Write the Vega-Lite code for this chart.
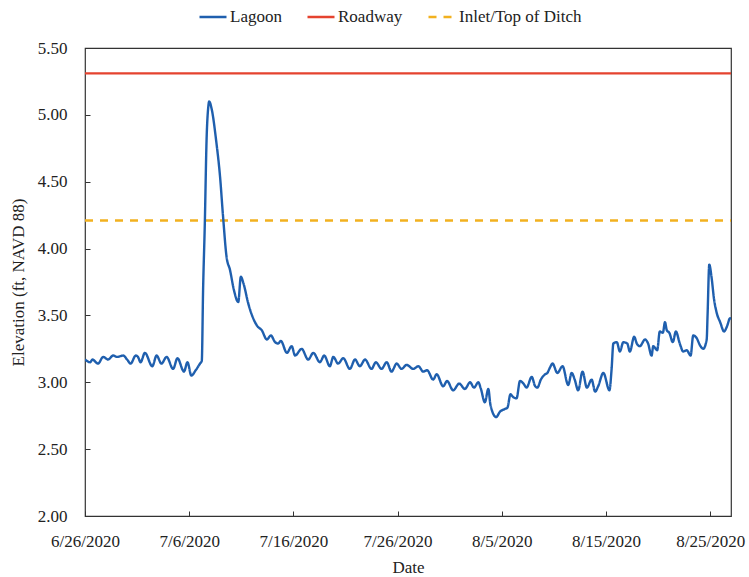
{
  "$schema": "https://vega.github.io/schema/vega-lite/v6.json",
  "width": 646,
  "height": 468,
  "autosize": {"type": "none"},
  "padding": {"left": 85, "top": 48, "right": 18, "bottom": 61},
  "background": "white",
  "config": {
    "font": "Liberation Serif",
    "view": {"stroke": "#333333", "strokeWidth": 1.2},
    "style": {
      "guide-label": {"font": "Liberation Serif", "fontSize": 17, "fill": "#222222"},
      "guide-title": {"font": "Liberation Serif", "fontSize": 17, "fill": "#222222", "fontWeight": "normal"}
    },
    "axis": {
      "domain": false,
      "grid": false,
      "tickColor": "#333333",
      "tickWidth": 1,
      "tickSize": -5,
      "labelFont": "Liberation Serif",
      "labelFontSize": 17,
      "labelColor": "#222222",
      "titleFont": "Liberation Serif",
      "titleFontSize": 17,
      "titleFontWeight": "normal",
      "titleColor": "#222222"
    },
    "legend": {
      "labelFont": "Liberation Serif",
      "labelFontSize": 17,
      "labelColor": "#222222"
    }
  },
  "data": {
    "values": [
      {"date": "2020-06-26T00:00", "value": 5.31, "series": "Roadway"},
      {"date": "2020-08-27T00:00", "value": 5.31, "series": "Roadway"},
      {"date": "2020-06-26T00:00", "value": 4.21, "series": "Inlet/Top of Ditch"},
      {"date": "2020-08-27T00:00", "value": 4.21, "series": "Inlet/Top of Ditch"},
      {"date": "2020-06-26T00:00", "value": 3.17, "series": "Lagoon"},
      {"date": "2020-06-26T12:00", "value": 3.15, "series": "Lagoon"},
      {"date": "2020-06-26T17:00", "value": 3.17, "series": "Lagoon"},
      {"date": "2020-06-27T06:00", "value": 3.14, "series": "Lagoon"},
      {"date": "2020-06-27T18:00", "value": 3.19, "series": "Lagoon"},
      {"date": "2020-06-28T05:00", "value": 3.17, "series": "Lagoon"},
      {"date": "2020-06-28T17:00", "value": 3.2, "series": "Lagoon"},
      {"date": "2020-06-29T02:00", "value": 3.19, "series": "Lagoon"},
      {"date": "2020-06-29T16:00", "value": 3.2, "series": "Lagoon"},
      {"date": "2020-06-30T01:00", "value": 3.17, "series": "Lagoon"},
      {"date": "2020-06-30T09:00", "value": 3.14, "series": "Lagoon"},
      {"date": "2020-06-30T21:00", "value": 3.2, "series": "Lagoon"},
      {"date": "2020-07-01T02:00", "value": 3.19, "series": "Lagoon"},
      {"date": "2020-07-01T08:00", "value": 3.15, "series": "Lagoon"},
      {"date": "2020-07-01T18:00", "value": 3.22, "series": "Lagoon"},
      {"date": "2020-07-02T11:00", "value": 3.12, "series": "Lagoon"},
      {"date": "2020-07-02T21:00", "value": 3.2, "series": "Lagoon"},
      {"date": "2020-07-03T08:00", "value": 3.14, "series": "Lagoon"},
      {"date": "2020-07-03T20:00", "value": 3.19, "series": "Lagoon"},
      {"date": "2020-07-04T11:00", "value": 3.1, "series": "Lagoon"},
      {"date": "2020-07-04T21:00", "value": 3.18, "series": "Lagoon"},
      {"date": "2020-07-05T12:00", "value": 3.08, "series": "Lagoon"},
      {"date": "2020-07-05T20:00", "value": 3.15, "series": "Lagoon"},
      {"date": "2020-07-06T05:00", "value": 3.05, "series": "Lagoon"},
      {"date": "2020-07-06T15:00", "value": 3.09, "series": "Lagoon"},
      {"date": "2020-07-07T01:00", "value": 3.14, "series": "Lagoon"},
      {"date": "2020-07-07T05:00", "value": 3.16, "series": "Lagoon"},
      {"date": "2020-07-07T08:00", "value": 3.69, "series": "Lagoon"},
      {"date": "2020-07-07T12:00", "value": 4.19, "series": "Lagoon"},
      {"date": "2020-07-07T16:00", "value": 4.81, "series": "Lagoon"},
      {"date": "2020-07-07T20:00", "value": 5.06, "series": "Lagoon"},
      {"date": "2020-07-07T22:00", "value": 5.1, "series": "Lagoon"},
      {"date": "2020-07-08T04:00", "value": 5.04, "series": "Lagoon"},
      {"date": "2020-07-08T14:00", "value": 4.81, "series": "Lagoon"},
      {"date": "2020-07-08T23:00", "value": 4.54, "series": "Lagoon"},
      {"date": "2020-07-09T06:00", "value": 4.24, "series": "Lagoon"},
      {"date": "2020-07-09T14:00", "value": 3.94, "series": "Lagoon"},
      {"date": "2020-07-09T22:00", "value": 3.84, "series": "Lagoon"},
      {"date": "2020-07-10T07:00", "value": 3.69, "series": "Lagoon"},
      {"date": "2020-07-10T17:00", "value": 3.6, "series": "Lagoon"},
      {"date": "2020-07-10T23:00", "value": 3.79, "series": "Lagoon"},
      {"date": "2020-07-11T05:00", "value": 3.74, "series": "Lagoon"},
      {"date": "2020-07-11T16:00", "value": 3.59, "series": "Lagoon"},
      {"date": "2020-07-12T02:00", "value": 3.49, "series": "Lagoon"},
      {"date": "2020-07-12T13:00", "value": 3.42, "series": "Lagoon"},
      {"date": "2020-07-12T23:00", "value": 3.39, "series": "Lagoon"},
      {"date": "2020-07-13T11:00", "value": 3.32, "series": "Lagoon"},
      {"date": "2020-07-13T20:00", "value": 3.35, "series": "Lagoon"},
      {"date": "2020-07-14T06:00", "value": 3.3, "series": "Lagoon"},
      {"date": "2020-07-14T13:00", "value": 3.29, "series": "Lagoon"},
      {"date": "2020-07-14T19:00", "value": 3.31, "series": "Lagoon"},
      {"date": "2020-07-15T09:00", "value": 3.22, "series": "Lagoon"},
      {"date": "2020-07-15T20:00", "value": 3.27, "series": "Lagoon"},
      {"date": "2020-07-16T04:00", "value": 3.2, "series": "Lagoon"},
      {"date": "2020-07-16T19:00", "value": 3.25, "series": "Lagoon"},
      {"date": "2020-07-17T10:00", "value": 3.17, "series": "Lagoon"},
      {"date": "2020-07-17T22:00", "value": 3.22, "series": "Lagoon"},
      {"date": "2020-07-18T13:00", "value": 3.15, "series": "Lagoon"},
      {"date": "2020-07-18T23:00", "value": 3.2, "series": "Lagoon"},
      {"date": "2020-07-19T12:00", "value": 3.12, "series": "Lagoon"},
      {"date": "2020-07-19T20:00", "value": 3.19, "series": "Lagoon"},
      {"date": "2020-07-20T07:00", "value": 3.14, "series": "Lagoon"},
      {"date": "2020-07-20T19:00", "value": 3.18, "series": "Lagoon"},
      {"date": "2020-07-21T10:00", "value": 3.1, "series": "Lagoon"},
      {"date": "2020-07-21T22:00", "value": 3.17, "series": "Lagoon"},
      {"date": "2020-07-22T09:00", "value": 3.12, "series": "Lagoon"},
      {"date": "2020-07-22T21:00", "value": 3.17, "series": "Lagoon"},
      {"date": "2020-07-23T12:00", "value": 3.1, "series": "Lagoon"},
      {"date": "2020-07-23T22:00", "value": 3.15, "series": "Lagoon"},
      {"date": "2020-07-24T11:00", "value": 3.1, "series": "Lagoon"},
      {"date": "2020-07-24T23:00", "value": 3.15, "series": "Lagoon"},
      {"date": "2020-07-25T10:00", "value": 3.08, "series": "Lagoon"},
      {"date": "2020-07-25T22:00", "value": 3.14, "series": "Lagoon"},
      {"date": "2020-07-26T09:00", "value": 3.1, "series": "Lagoon"},
      {"date": "2020-07-26T21:00", "value": 3.13, "series": "Lagoon"},
      {"date": "2020-07-27T12:00", "value": 3.1, "series": "Lagoon"},
      {"date": "2020-07-28T00:00", "value": 3.12, "series": "Lagoon"},
      {"date": "2020-07-28T11:00", "value": 3.08, "series": "Lagoon"},
      {"date": "2020-07-28T20:00", "value": 3.09, "series": "Lagoon"},
      {"date": "2020-07-29T10:00", "value": 3.02, "series": "Lagoon"},
      {"date": "2020-07-29T18:00", "value": 3.06, "series": "Lagoon"},
      {"date": "2020-07-30T09:00", "value": 2.97, "series": "Lagoon"},
      {"date": "2020-07-30T18:00", "value": 3.01, "series": "Lagoon"},
      {"date": "2020-07-31T08:00", "value": 2.94, "series": "Lagoon"},
      {"date": "2020-07-31T22:00", "value": 2.99, "series": "Lagoon"},
      {"date": "2020-08-01T11:00", "value": 2.95, "series": "Lagoon"},
      {"date": "2020-08-01T23:00", "value": 3.0, "series": "Lagoon"},
      {"date": "2020-08-02T08:00", "value": 2.96, "series": "Lagoon"},
      {"date": "2020-08-02T18:00", "value": 3.0, "series": "Lagoon"},
      {"date": "2020-08-03T00:00", "value": 2.95, "series": "Lagoon"},
      {"date": "2020-08-03T09:00", "value": 2.85, "series": "Lagoon"},
      {"date": "2020-08-03T17:00", "value": 2.95, "series": "Lagoon"},
      {"date": "2020-08-03T22:00", "value": 2.83, "series": "Lagoon"},
      {"date": "2020-08-04T11:00", "value": 2.74, "series": "Lagoon"},
      {"date": "2020-08-04T20:00", "value": 2.78, "series": "Lagoon"},
      {"date": "2020-08-05T07:00", "value": 2.8, "series": "Lagoon"},
      {"date": "2020-08-05T13:00", "value": 2.81, "series": "Lagoon"},
      {"date": "2020-08-05T20:00", "value": 2.91, "series": "Lagoon"},
      {"date": "2020-08-06T02:00", "value": 2.89, "series": "Lagoon"},
      {"date": "2020-08-06T10:00", "value": 2.88, "series": "Lagoon"},
      {"date": "2020-08-06T18:00", "value": 3.01, "series": "Lagoon"},
      {"date": "2020-08-07T02:00", "value": 2.99, "series": "Lagoon"},
      {"date": "2020-08-07T09:00", "value": 2.96, "series": "Lagoon"},
      {"date": "2020-08-07T21:00", "value": 3.04, "series": "Lagoon"},
      {"date": "2020-08-08T05:00", "value": 2.97, "series": "Lagoon"},
      {"date": "2020-08-08T10:00", "value": 2.96, "series": "Lagoon"},
      {"date": "2020-08-08T18:00", "value": 3.02, "series": "Lagoon"},
      {"date": "2020-08-09T04:00", "value": 3.06, "series": "Lagoon"},
      {"date": "2020-08-09T09:00", "value": 3.07, "series": "Lagoon"},
      {"date": "2020-08-09T15:00", "value": 3.11, "series": "Lagoon"},
      {"date": "2020-08-09T21:00", "value": 3.14, "series": "Lagoon"},
      {"date": "2020-08-10T08:00", "value": 3.07, "series": "Lagoon"},
      {"date": "2020-08-10T20:00", "value": 3.12, "series": "Lagoon"},
      {"date": "2020-08-11T09:00", "value": 2.98, "series": "Lagoon"},
      {"date": "2020-08-11T17:00", "value": 3.07, "series": "Lagoon"},
      {"date": "2020-08-12T00:00", "value": 3.02, "series": "Lagoon"},
      {"date": "2020-08-12T08:00", "value": 2.94, "series": "Lagoon"},
      {"date": "2020-08-12T18:00", "value": 3.08, "series": "Lagoon"},
      {"date": "2020-08-13T04:00", "value": 2.96, "series": "Lagoon"},
      {"date": "2020-08-13T15:00", "value": 3.02, "series": "Lagoon"},
      {"date": "2020-08-13T23:00", "value": 2.93, "series": "Lagoon"},
      {"date": "2020-08-14T06:00", "value": 2.97, "series": "Lagoon"},
      {"date": "2020-08-14T18:00", "value": 3.07, "series": "Lagoon"},
      {"date": "2020-08-15T08:00", "value": 2.94, "series": "Lagoon"},
      {"date": "2020-08-15T13:00", "value": 3.1, "series": "Lagoon"},
      {"date": "2020-08-15T17:00", "value": 3.29, "series": "Lagoon"},
      {"date": "2020-08-16T01:00", "value": 3.3, "series": "Lagoon"},
      {"date": "2020-08-16T08:00", "value": 3.23, "series": "Lagoon"},
      {"date": "2020-08-16T16:00", "value": 3.3, "series": "Lagoon"},
      {"date": "2020-08-17T01:00", "value": 3.29, "series": "Lagoon"},
      {"date": "2020-08-17T07:00", "value": 3.23, "series": "Lagoon"},
      {"date": "2020-08-17T17:00", "value": 3.34, "series": "Lagoon"},
      {"date": "2020-08-17T23:00", "value": 3.29, "series": "Lagoon"},
      {"date": "2020-08-18T06:00", "value": 3.27, "series": "Lagoon"},
      {"date": "2020-08-18T18:00", "value": 3.32, "series": "Lagoon"},
      {"date": "2020-08-19T01:00", "value": 3.29, "series": "Lagoon"},
      {"date": "2020-08-19T09:00", "value": 3.2, "series": "Lagoon"},
      {"date": "2020-08-19T13:00", "value": 3.27, "series": "Lagoon"},
      {"date": "2020-08-19T22:00", "value": 3.24, "series": "Lagoon"},
      {"date": "2020-08-20T04:00", "value": 3.38, "series": "Lagoon"},
      {"date": "2020-08-20T11:00", "value": 3.37, "series": "Lagoon"},
      {"date": "2020-08-20T16:00", "value": 3.45, "series": "Lagoon"},
      {"date": "2020-08-20T20:00", "value": 3.39, "series": "Lagoon"},
      {"date": "2020-08-21T02:00", "value": 3.37, "series": "Lagoon"},
      {"date": "2020-08-21T10:00", "value": 3.3, "series": "Lagoon"},
      {"date": "2020-08-21T17:00", "value": 3.38, "series": "Lagoon"},
      {"date": "2020-08-22T02:00", "value": 3.29, "series": "Lagoon"},
      {"date": "2020-08-22T10:00", "value": 3.23, "series": "Lagoon"},
      {"date": "2020-08-22T18:00", "value": 3.24, "series": "Lagoon"},
      {"date": "2020-08-23T03:00", "value": 3.2, "series": "Lagoon"},
      {"date": "2020-08-23T09:00", "value": 3.35, "series": "Lagoon"},
      {"date": "2020-08-23T17:00", "value": 3.33, "series": "Lagoon"},
      {"date": "2020-08-24T00:00", "value": 3.28, "series": "Lagoon"},
      {"date": "2020-08-24T08:00", "value": 3.25, "series": "Lagoon"},
      {"date": "2020-08-24T16:00", "value": 3.32, "series": "Lagoon"},
      {"date": "2020-08-24T18:00", "value": 3.5, "series": "Lagoon"},
      {"date": "2020-08-24T22:00", "value": 3.88, "series": "Lagoon"},
      {"date": "2020-08-25T03:00", "value": 3.79, "series": "Lagoon"},
      {"date": "2020-08-25T09:00", "value": 3.62, "series": "Lagoon"},
      {"date": "2020-08-25T15:00", "value": 3.52, "series": "Lagoon"},
      {"date": "2020-08-25T23:00", "value": 3.45, "series": "Lagoon"},
      {"date": "2020-08-26T08:00", "value": 3.38, "series": "Lagoon"},
      {"date": "2020-08-26T15:00", "value": 3.42, "series": "Lagoon"},
      {"date": "2020-08-26T22:00", "value": 3.48, "series": "Lagoon"},
      {"date": "2020-08-27T00:00", "value": 3.47, "series": "Lagoon"}
    ]
  },
  "mark": {"type": "line", "strokeWidth": 2.4, "interpolate": "monotone", "clip": true},
  "encoding": {
    "x": {
      "field": "date",
      "type": "temporal",
      "scale": {
        "domain": [
          {"year": 2020, "month": 6, "date": 26},
          {"year": 2020, "month": 8, "date": 27}
        ]
      },
      "axis": {
        "values": [
          {"year": 2020, "month": 6, "date": 26},
          {"year": 2020, "month": 7, "date": 6},
          {"year": 2020, "month": 7, "date": 16},
          {"year": 2020, "month": 7, "date": 26},
          {"year": 2020, "month": 8, "date": 5},
          {"year": 2020, "month": 8, "date": 15},
          {"year": 2020, "month": 8, "date": 25}
        ],
        "format": "%-m/%-d/%Y",
        "labelFont": "Liberation Serif",
        "labelFontSize": 17,
        "labelPadding": 22,
        "labelFlush": false,
        "labelOverlap": false,
        "title": "Date",
        "titleFont": "Liberation Serif",
        "titlePadding": 10
      }
    },
    "y": {
      "field": "value",
      "type": "quantitative",
      "scale": {"domain": [2, 5.5], "nice": false, "zero": false},
      "axis": {
        "values": [2, 2.5, 3, 3.5, 4, 4.5, 5, 5.5],
        "format": ".2f",
        "labelFont": "Liberation Serif",
        "labelFontSize": 17,
        "labelPadding": 23,
        "labelFlush": false,
        "title": "Elevation (ft, NAVD 88)",
        "titleFont": "Liberation Serif",
        "titlePadding": 10
      }
    },
    "color": {
      "field": "series",
      "type": "nominal",
      "scale": {
        "domain": ["Lagoon", "Roadway", "Inlet/Top of Ditch"],
        "range": ["#1f5fae", "#e5432f", "#f2b11f"]
      },
      "legend": {
        "orient": "none",
        "legendX": 113,
        "legendY": -46,
        "direction": "horizontal",
        "title": null,
        "symbolType": "stroke",
        "symbolSize": 729,
        "symbolStrokeWidth": 2.5,
        "labelFont": "Liberation Serif",
        "labelFontSize": 17,
        "labelColor": "#222222",
        "labelOffset": 2,
        "columnPadding": 20
      }
    },
    "strokeDash": {
      "field": "series",
      "type": "nominal",
      "scale": {
        "domain": ["Lagoon", "Roadway", "Inlet/Top of Ditch"],
        "range": [[1, 0], [1, 0], [8, 7]]
      },
      "legend": {
        "orient": "none",
        "legendX": 113,
        "legendY": -46,
        "direction": "horizontal",
        "title": null,
        "symbolType": "stroke",
        "symbolSize": 729,
        "symbolStrokeWidth": 2.5,
        "labelFont": "Liberation Serif",
        "labelFontSize": 17,
        "labelColor": "#222222",
        "labelOffset": 2,
        "columnPadding": 20
      }
    }
  }
}
